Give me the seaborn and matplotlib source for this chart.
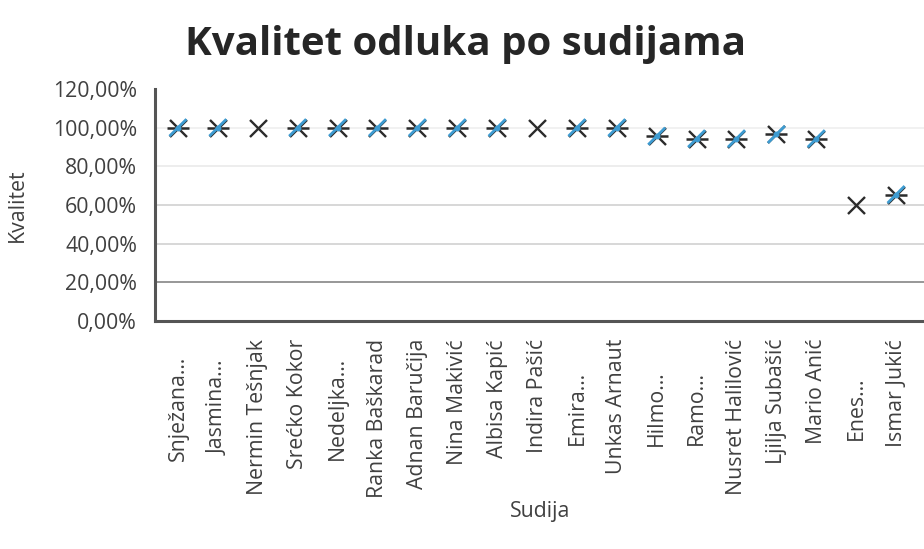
import numpy as np
import pandas as pd
import matplotlib
matplotlib.use("Agg")
import matplotlib.pyplot as plt
from matplotlib.path import Path
import matplotlib.transforms as mtransforms
import seaborn as sns

sudije = ["Snježana…", "Jasmina…", "Nermin Tešnjak", "Srećko Kokor", "Nedeljka…",
          "Ranka Baškarad", "Adnan Baručija", "Nina Makivić", "Albisa Kapić", "Indira Pašić",
          "Emira…", "Unkas Arnaut", "Hilmo…", "Ramo…", "Nusret Halilović",
          "Ljilja Subašić", "Mario Anić", "Enes…", "Ismar Jukić"]
kvalitet = [1.00, 1.00, 1.00, 1.00, 1.00, 1.00, 1.00, 1.00, 1.00, 1.00,
            1.00, 1.00, 0.956, 0.943, 0.943, 0.965, 0.943, 0.60, 0.654]
# second (blue) series; None where only the black marker is visible
kvalitet2 = [1.00, 1.00, None, 1.00, 1.00, 1.00, 1.00, 1.00, 1.00, None,
             1.00, 1.00, 0.956, 0.943, 0.943, 0.965, 0.943, None, 0.654]
yticks = [0, 0.2, 0.4, 0.6, 0.8, 1.0, 1.2]
ytick_labels = ["0,00%", "20,00%", "40,00%", "60,00%", "80,00%", "100,00%", "120,00%"]
grid_colors = {0.2: "#8f8f8f", 0.4: "#d4d4d4", 0.6: "#d4d4d4", 0.8: "#ececec", 1.0: "#f0f0f0"}

sns.set_theme(style="white")
plt.rcParams["font.family"] = ["Open Sans", "DejaVu Sans"]
txt = "#404040"
blue = "#3d9bd1"

df = pd.DataFrame({"Sudija": sudije, "Kvalitet": kvalitet,
                   "Kvalitet2": pd.Series(kvalitet2, dtype="float")})

fig = plt.figure(figsize=(9.24, 5.49), dpi=100)
ax = fig.add_axes([155/924, 1-321/549, 1-155/924, (321-89)/549])

for t, c in grid_colors.items():
    ax.axhline(t, color=c, lw=1.3, zorder=0)

slash = Path([(-1, -1), (1, 1)], [Path.MOVETO, Path.LINETO])

sns.scatterplot(data=df, x="Sudija", y="Kvalitet", marker="x", color="#2b2b2b",
                s=150, linewidth=1.7, ax=ax, zorder=3, clip_on=False)
ax.scatter(np.arange(len(sudije)), df["Kvalitet2"], marker="_", s=260,
           color="#2b2b2b", linewidths=1.8, zorder=4, clip_on=False)
ax.scatter(np.arange(len(sudije)), df["Kvalitet2"], marker=slash, s=150,
           facecolors="none", edgecolors=blue, linewidths=2.0, zorder=5, clip_on=False)
ax.scatter(np.arange(len(sudije)), df["Kvalitet2"], marker="o", s=18, color=blue,
           linewidths=0, zorder=6, clip_on=False)

ax.set_ylim(0, 1.2)
ax.set_xlim(-0.576, 18.70)
ax.set_yticks(yticks)
ax.set_yticklabels(ytick_labels, fontsize=15.3, color=txt)
ax.set_xticks(range(len(sudije)))
ax.set_xticklabels([])
ax.tick_params(axis="both", length=0)
ax.tick_params(axis="y", pad=13)

# category labels, rotated; full names hang from the axis, truncated ones are centred
trans = mtransforms.blended_transform_factory(ax.transData, ax.transAxes)
for i, name in enumerate(sudije):
    if name.endswith("…"):
        ax.text(i, (321 - 408) / 232, name, transform=trans, rotation=90,
                ha="center", va="center", fontsize=15.3, color=txt)
    else:
        ax.text(i, (321 - 339) / 232, name, transform=trans, rotation=90,
                ha="center", va="top", fontsize=15.3, color=txt)

for s in ["top", "right"]:
    ax.spines[s].set_visible(False)
for s in ["left", "bottom"]:
    ax.spines[s].set_color("#555555")
    ax.spines[s].set_linewidth(2.2)

ax.set_xlabel("")
ax.set_ylabel("")
fig.text(540/924, 1-512/549, "Sudija", ha="center", va="center", fontsize=15.3, color=txt)
fig.text(17/924, 1-205/549, "Kvalitet", ha="center", va="center", rotation=90,
         fontsize=15.3, color=txt)

fig.text(466/924, 1-45/549, "Kvalitet odluka po sudijama", ha="center", va="center",
         fontsize=29, fontweight="bold", color="#262626")

fig.savefig("out.png", dpi=100)
